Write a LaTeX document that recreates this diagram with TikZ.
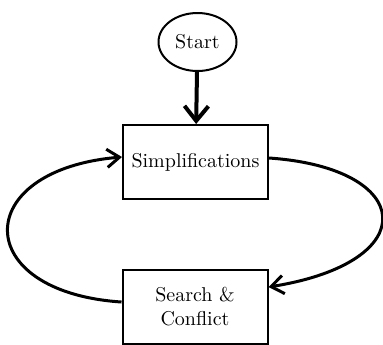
\documentclass[tikz,border=0pt]{standalone}
\usepackage{tikz}
\usetikzlibrary{positioning,arrows.meta,calc,shapes.geometric}
\tikzset{
  flowarrow/.style={-{Straight Barb[length=2.2mm, width=3.2mm]}, line width=1.5pt},
  startarrow/.style={-{Straight Barb[length=2.6mm, width=4.2mm]}, line width=2pt},
  startnode/.style={draw, ellipse, line width=1pt, minimum width=39pt, minimum height=29pt, inner sep=0pt, align=center},
  stagebox/.style={draw, line width=1pt, minimum width=72.5pt, minimum height=37pt, inner sep=1pt, align=center}
}
\begin{document}
\begin{tikzpicture}[x=0.5pt, y=-0.5pt, every node/.style={font=\normalsize}]
  \useasboundingbox (0,0) rectangle (383,344);
  \node[startnode] (start) at (197.5,42) {Start};
  \node[stagebox] (simp) at (195.5,162) {Simplifications};
  \node[stagebox] (search) at (195,306.5) {Search \&\\Conflict};
  \draw[startarrow] (start) -- (simp);
  % loop between the two stages
  \draw[flowarrow] ([yshift=2pt]simp.east) .. controls (415,168) and (425,262) .. ([yshift=9.75pt]search.east);
  \draw[flowarrow] ([yshift=2.25pt]search.west) .. controls (-30,292) and (-30,170) .. ([yshift=2.5pt]simp.west);
\end{tikzpicture}
\end{document}
